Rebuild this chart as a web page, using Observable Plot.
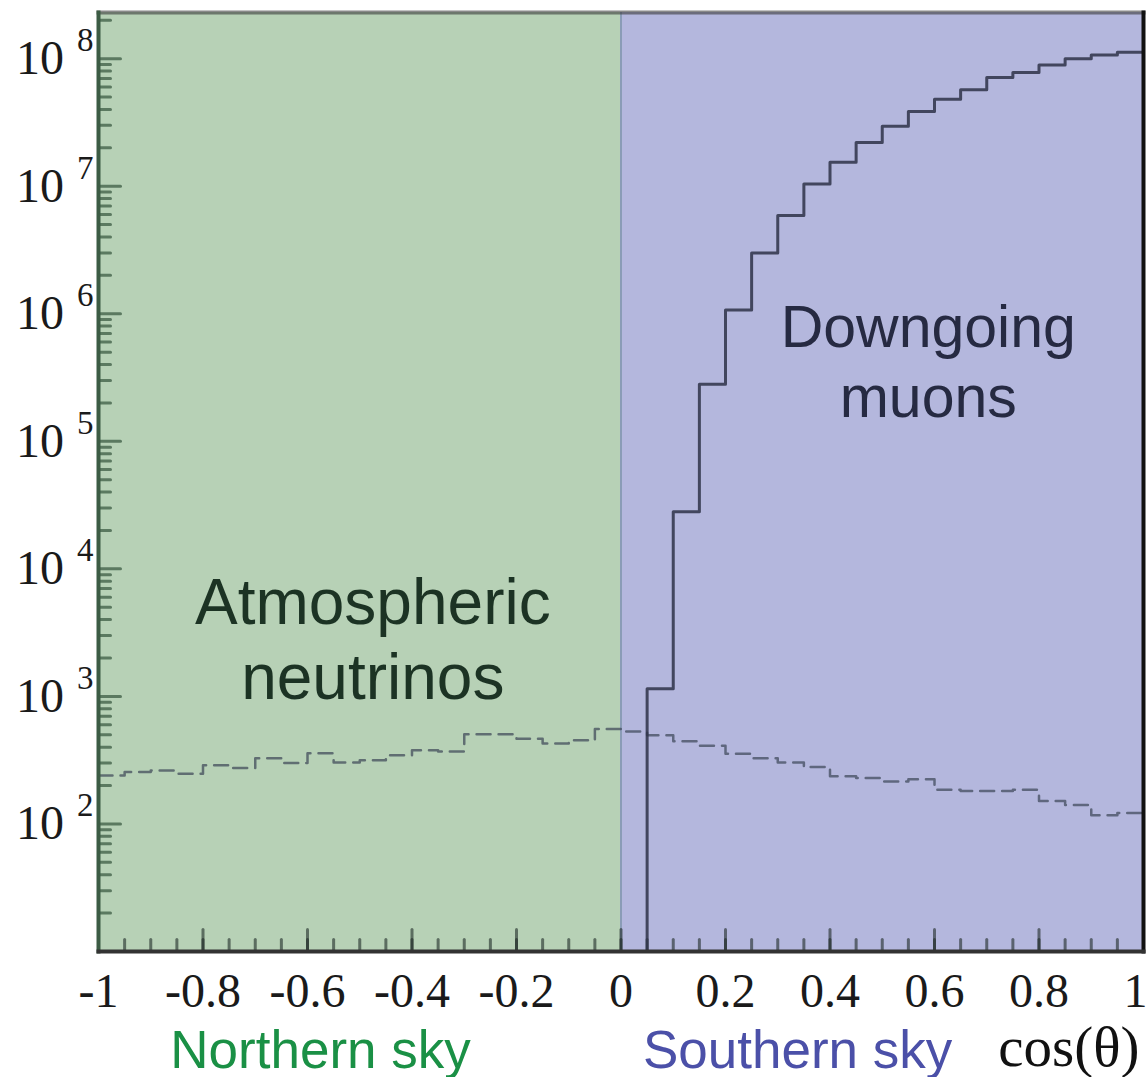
<!DOCTYPE html>
<html><head><meta charset="utf-8">
<script src="https://cdn.jsdelivr.net/npm/d3@7"></script>
<script src="https://cdn.jsdelivr.net/npm/@observablehq/plot@0.6"></script>
<style>html,body{margin:0;padding:0;background:#fff;overflow:hidden;}</style>
</head><body><div id="chart"></div>
<script>
// ---- data ----
const xDomain = [-1, 1];
const yDomain = [10, 2.3e8];

const neutrinoBinLow = [-1.00,-0.95,-0.90,-0.85,-0.80,-0.75,-0.70,-0.65,-0.60,-0.55,-0.50,-0.45,-0.40,-0.35,-0.30,-0.25,-0.20,-0.15,-0.10,-0.05,0.00,0.05,0.10,0.15,0.20,0.25,0.30,0.35,0.40,0.45,0.50,0.55,0.60,0.65,0.70,0.75,0.80,0.85,0.90,0.95];
const neutrinoCounts = [240,255,262,248,289,274,328,300,358,303,316,345,378,370,505,505,465,427,453,555,530,495,445,410,355,328,303,279,237,229,215,224,185,181,181,185,151,141,117,122];

const muonBinLow = [0.05,0.10,0.15,0.20,0.25,0.30,0.35,0.40,0.45,0.50,0.55,0.60,0.65,0.70,0.75,0.80,0.85,0.90,0.95];
const muonCounts = [1.15e3,2.8e4,2.8e5,1.07e6,3.0e6,5.9e6,1.04e7,1.54e7,2.2e7,2.95e7,3.85e7,4.8e7,5.7e7,7.1e7,7.8e7,8.9e7,1.0e8,1.07e8,1.12e8];

const xMajorTicks = [-1,-0.8,-0.6,-0.4,-0.2,0,0.2,0.4,0.6,0.8,1];
const xTickLabels = ["-1","-0.8","-0.6","-0.4","-0.2","0","0.2","0.4","0.6","0.8","1"];
const xMinorTicks = neutrinoBinLow;
const yMajorTicks = [1e2,1e3,1e4,1e5,1e6,1e7,1e8];
const yTickExponents = ["2","3","4","5","6","7","8"];

const skyNames = ["Northern sky","Southern sky"];
const skyRanges = [[-1,0],[0,1]];
const regionLabels = ["Atmospheric\nneutrinos","Downgoing\nmuons"];
const axisTitle = "cos(\u03B8)";

// ---- derived ----
const yMinorTicks = [];
for (let k = 1; k <= 8; k++) for (let m = 2; m <= 9; m++) { const v = m * 10 ** k; if (v <= yDomain[1]) yMinorTicks.push(v); }
const neutrinoLine = neutrinoBinLow.map((x, i) => ({x, y: neutrinoCounts[i]})).concat([{x: xDomain[1], y: neutrinoCounts[neutrinoCounts.length - 1]}]);
const muonLine = [{x: muonBinLow[0], y: yDomain[0]}]
  .concat(muonBinLow.map((x, i) => ({x, y: muonCounts[i]})))
  .concat([{x: xDomain[1], y: muonCounts[muonCounts.length - 1]}]);
const north = [{x1: skyRanges[0][0], x2: skyRanges[0][1]}];
const south = [{x1: skyRanges[1][0], x2: skyRanges[1][1]}];

const tickShape = {draw(ctx, l) { ctx.moveTo(0, 0); ctx.lineTo(0, -l); }};
const SANS = "Liberation Sans, Arial, sans-serif";
const SERIF = "Liberation Serif, Times New Roman, serif";

const svg = Plot.plot({
  width: 1148, height: 1077,
  marginLeft: 98, marginRight: 5, marginTop: 12, marginBottom: 126,
  x: {domain: xDomain},
  y: {type: "log", domain: yDomain},
  style: {background: "white", overflow: "hidden"},
  marks: [
    Plot.rect(north, {x1: "x1", x2: "x2", fill: "#b7d1b6"}),
    Plot.rect(south, {x1: "x1", x2: "x2", fill: "#b4b7dd"}),
    Plot.ruleX([0], {stroke: "#8a9cb6", strokeWidth: 2}),
    // inward ticks
    Plot.vector(xMinorTicks, {x: d => d, frameAnchor: "bottom", anchor: "start", rotate: 0, length: 12, shape: tickShape, stroke: "#1e2a26", strokeOpacity: 0.6, strokeWidth: 3}),
    Plot.vector(xMajorTicks, {x: d => d, frameAnchor: "bottom", anchor: "start", rotate: 0, length: 22, shape: tickShape, stroke: "#1e2a26", strokeOpacity: 0.6, strokeWidth: 3}),
    Plot.vector(yMinorTicks, {y: d => d, frameAnchor: "left", anchor: "start", rotate: 90, length: 12, shape: tickShape, stroke: "#2a4a33", strokeOpacity: 0.65, strokeWidth: 3}),
    Plot.vector(yMajorTicks, {y: d => d, frameAnchor: "left", anchor: "start", rotate: 90, length: 22, shape: tickShape, stroke: "#2a4a33", strokeOpacity: 0.65, strokeWidth: 3}),
    // histograms
    Plot.line(neutrinoLine, {x: "x", y: "y", curve: "step-after", stroke: "#3a4456", strokeOpacity: 0.7, strokeWidth: 2.5, strokeDasharray: "14,8"}),
    Plot.line(muonLine, {x: "x", y: "y", curve: "step-after", stroke: "#2e3248", strokeOpacity: 0.85, strokeWidth: 3}),
    // borders
    Plot.frame({anchor: "top", stroke: "#3a3a3a", strokeOpacity: 0.6, strokeWidth: 4}),
    Plot.frame({anchor: "right", stroke: "#111", strokeWidth: 4}),
    Plot.frame({anchor: "left", stroke: "#3c5c44", strokeWidth: 4}),
    Plot.frame({anchor: "bottom", stroke: "#333", strokeWidth: 4}),
    // axes labels
    Plot.axisX(xMajorTicks, {tickSize: 0, tickPadding: 21, tickFormat: d => xTickLabels[xMajorTicks.indexOf(d)], fontSize: 48, fontFamily: SERIF, fill: "#1a1a1a", label: null}),
    Plot.axisY(yMajorTicks, {tickSize: 0, tickPadding: 5, tickFormat: d => yTickExponents[yMajorTicks.indexOf(d)], fontSize: 48, fontFamily: SERIF, fill: "#1a1a1a", label: null}),
    // annotations
    Plot.text([regionLabels[0]], {x: -0.475, y: 2.88e3, text: d => d, fontSize: 64, lineHeight: 1.17, fontFamily: SANS, fill: "#1c3324"}),
    Plot.text([regionLabels[1]], {x: 0.588, y: 4.4e5, text: d => d, fontSize: 59, lineHeight: 1.19, fontFamily: SANS, fill: "#262a42"}),
    Plot.text([skyNames[0]], {x: -0.575, frameAnchor: "bottom", dy: 116, text: d => d, fontSize: 53, fontFamily: SANS, fill: "#1a9045"}),
    Plot.text([skyNames[1]], {x: 0.338, frameAnchor: "bottom", dy: 116, text: d => d, fontSize: 53, fontFamily: SANS, fill: "#4b50a8"}),
    Plot.text([axisTitle], {x: xDomain[1], frameAnchor: "bottom", dy: 114, dx: -4, textAnchor: "end", text: d => d, fontSize: 57, fontFamily: SERIF, fill: "#111"})
  ]
});

d3.select(svg).selectAll('g[aria-label="y-axis tick label"] text').each(function () {
  const t = d3.select(this);
  const exp = t.text();
  t.text(null);
  t.append("tspan").text("10");
  t.append("tspan").attr("dx", 13).attr("dy", -23).attr("font-size", 33).text(exp);
});
// keep the last x tick label ("1") inside the picture edge, as in the reference
const xLabels = d3.select(svg).selectAll('g[aria-label="x-axis tick label"] text').nodes();
if (xLabels.length) d3.select(xLabels[xLabels.length - 1]).attr("dx", -8);

document.getElementById("chart").appendChild(svg);
</script>
</body></html>
